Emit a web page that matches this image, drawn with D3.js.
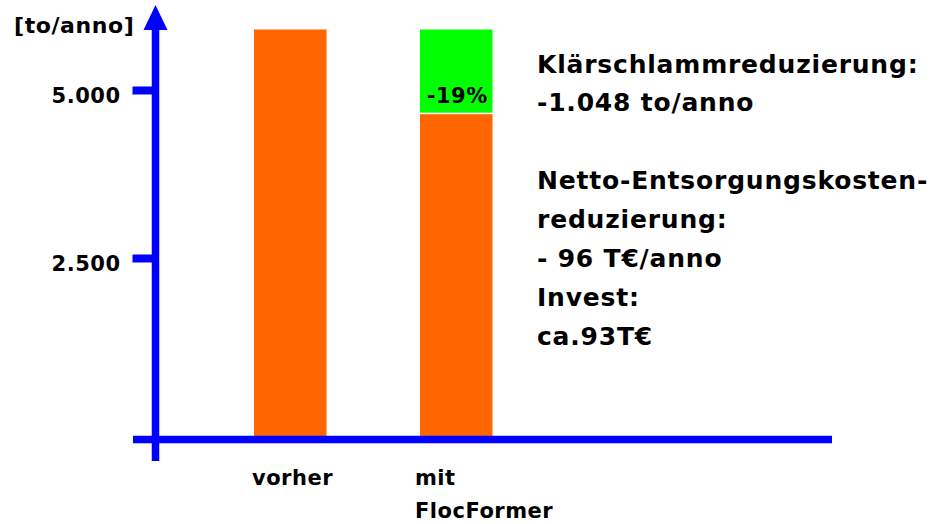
<!DOCTYPE html>
<html>
<head>
<meta charset="utf-8">
<script src="https://cdn.jsdelivr.net/npm/d3@7"></script>
<style>
  body { margin: 0; background: #fff; }
  text { font-family: "DejaVu Sans", sans-serif; font-weight: bold; fill: #000; }
</style>
</head>
<body>
<div id="chart"></div>
<script>
// data
const categories = ["vorher", "mit FlocFormer"];
const baseValues = [5900, 4640];     // orange part
const reductionValues = [0, 1260];   // green part (reduction)
const reductionLabels = ["", "-19%"];
const tickValues = [2500, 5000];
const unitLabel = "[to/anno]";
const infoLines = [
    ["Klärschlammreduzierung:", 0],
    ["-1.048 to/anno", 1],
    ["Netto-Entsorgungskosten-", 3],
    ["reduzierung:", 4],
    ["- 96 T€/anno", 5],
    ["Invest:", 6],
    ["ca.93T€", 7]
];

const width = 938, height = 524;
const blue = "#0000ff", orange = "#ff6600", green = "#00ff00";
const axisX = 155.5, baseY = 439.5;
const smallFont = "21px", smallSpacing = "0.5px";

const de = d3.formatLocale({ decimal: ",", thousands: ".", grouping: [3], currency: ["", "€"] });

const svg = d3.select("#chart")
    .append("svg")
    .attr("width", width)
    .attr("height", height);

const y = d3.scaleLinear().domain([0, 5000]).range([426, 90]);
const x = d3.scaleBand().domain(categories).range([254, 492.5]).paddingInner(0.563).paddingOuter(0);

// bars
const bars = svg.append("g").selectAll("g")
    .data(categories)
    .enter().append("g");

bars.append("rect")
    .attr("x", d => x(d))
    .attr("width", x.bandwidth())
    .attr("y", (d, i) => y(baseValues[i]))
    .attr("height", (d, i) => baseY - y(baseValues[i]))
    .attr("fill", orange);

bars.filter((d, i) => reductionValues[i] > 0)
    .append("rect")
    .attr("x", d => x(d))
    .attr("width", x.bandwidth())
    .attr("y", d => { const i = categories.indexOf(d); return y(baseValues[i] + reductionValues[i]); })
    .attr("height", d => { const i = categories.indexOf(d); return y(baseValues[i]) - y(baseValues[i] + reductionValues[i]) - 1.5; })
    .attr("fill", green);

bars.filter((d, i) => reductionLabels[i] !== "")
    .append("text")
    .attr("x", d => x(d) + x.bandwidth() / 2 + 1)
    .attr("y", d => { const i = categories.indexOf(d); return y(baseValues[i]) - 11; })
    .attr("text-anchor", "middle")
    .style("font-size", smallFont)
    .style("letter-spacing", smallSpacing)
    .text(d => reductionLabels[categories.indexOf(d)]);

// y axis ticks
const yAxis = d3.axisLeft(y)
    .tickValues(tickValues)
    .tickSize(23)
    .tickPadding(12)
    .tickFormat(de.format(","));

const gy = svg.append("g")
    .attr("transform", "translate(" + axisX + ",0)")
    .call(yAxis);
gy.select(".domain").remove();
gy.selectAll(".tick line").attr("stroke", blue).attr("stroke-width", 8);
gy.selectAll(".tick text")
    .attr("dy", "0.7em")
    .attr("y", -2)
    .style("font-size", smallFont)
    .style("letter-spacing", smallSpacing)
    .style("font-family", "DejaVu Sans")
    .style("font-weight", "bold");

// axis lines
svg.append("line")
    .attr("x1", 133).attr("x2", 832)
    .attr("y1", baseY).attr("y2", baseY)
    .attr("stroke", blue).attr("stroke-width", 7.5);

svg.append("line")
    .attr("x1", axisX).attr("x2", axisX)
    .attr("y1", 461).attr("y2", 26)
    .attr("stroke", blue).attr("stroke-width", 7.5);

svg.append("path")
    .attr("d", "M" + (axisX - 12) + ",30 L" + axisX + ",5 L" + (axisX + 12) + ",30 Z")
    .attr("fill", blue);

// unit label
svg.append("text")
    .attr("x", 14).attr("y", 33)
    .style("font-size", "22px")
    .style("letter-spacing", "0.6px")
    .text(unitLabel);

// category labels
const catLabels = svg.append("g").selectAll("text")
    .data(categories)
    .enter().append("text")
    .attr("x", (d, i) => i === 0 ? x(d) - 2 : x(d) - 5)
    .attr("y", 485)
    .style("font-size", smallFont)
    .style("letter-spacing", smallSpacing);

catLabels.each(function (d, i) {
    const words = i === 0 ? [d] : ["mit", "FlocFormer"];
    d3.select(this).selectAll("tspan")
        .data(words)
        .enter().append("tspan")
        .attr("x", d3.select(this).attr("x"))
        .attr("dy", (w, j) => j === 0 ? 0 : 33)
        .text(w => w);
});

// info text
svg.append("g").selectAll("text")
    .data(infoLines)
    .enter().append("text")
    .attr("x", 537)
    .attr("y", d => d[1] < 2 ? 73 + d[1] * 38 : 189 + (d[1] - 3) * 39)
    .style("font-size", "25px")
    .style("letter-spacing", "0.8px")
    .text(d => d[0]);
</script>
</body>
</html>
